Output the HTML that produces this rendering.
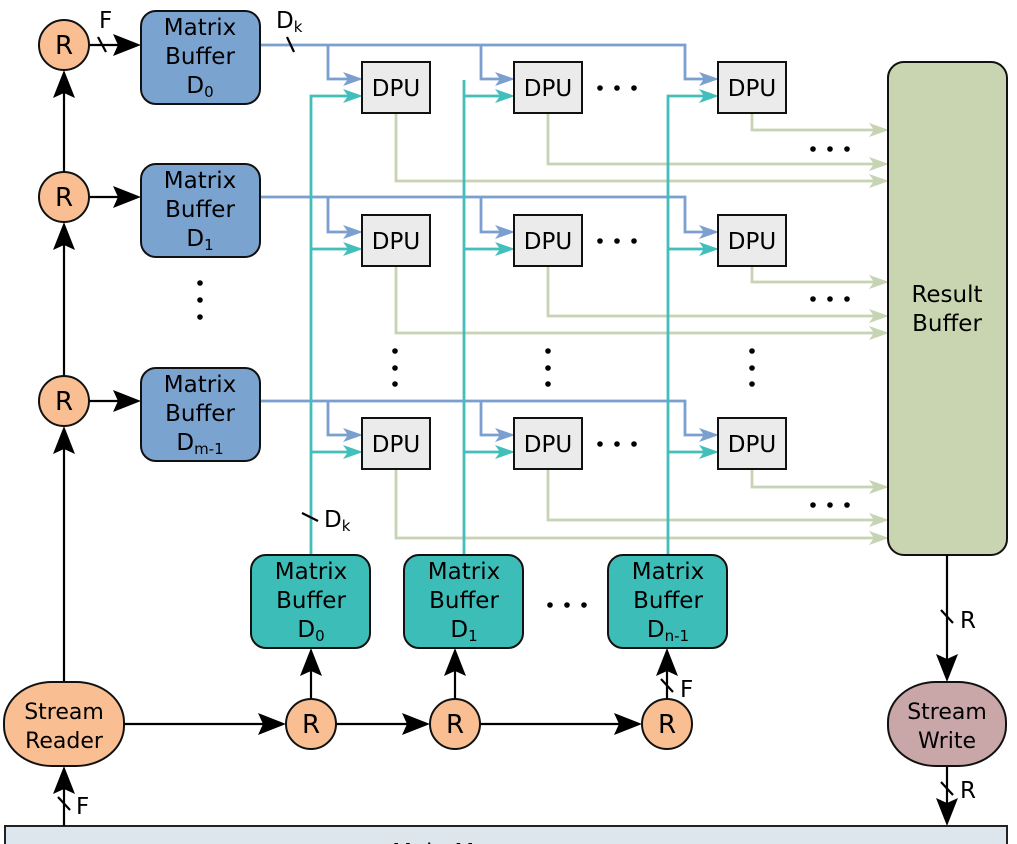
<!DOCTYPE html>
<html><head><meta charset="utf-8"><style>
html,body{margin:0;padding:0;background:#fff;}
svg{display:block;}
text{font-family:"DejaVu Sans","Liberation Sans",sans-serif;font-size:23px;fill:#000;}
.s{font-size:15px;}
.r{font-size:26px;}
.sw{font-size:22px;}
</style></head><body>
<svg width="1017" height="844" viewBox="0 0 1017 844" xmlns="http://www.w3.org/2000/svg">
<rect x="5" y="826" width="1002" height="40" fill="#dce6ec" stroke="#222" stroke-width="2"/>
<text x="470" y="860" text-anchor="middle">Main Memory</text>

<g fill="none" stroke="#7b9fcf" stroke-width="2.8">
<path d="M260 45H685V79H704 M328 45V79H348 M481 45V79H500"/>
<path d="M260 197H685V232H704 M328 197V232H348 M481 197V232H500"/>
<path d="M260 401H685V435H704 M328 401V435H348 M481 401V435H500"/>
</g>
<g fill="#7b9fcf">
<polygon points="363,79 343,72 348,79 343,86"/><polygon points="515,79 495,72 500,79 495,86"/><polygon points="719,79 699,72 704,79 699,86"/>
<polygon points="363,232 343,225 348,232 343,239"/><polygon points="515,232 495,225 500,232 495,239"/><polygon points="719,232 699,225 704,232 699,239"/>
<polygon points="363,435 343,428 348,435 343,442"/><polygon points="515,435 495,428 500,435 495,442"/><polygon points="719,435 699,428 704,435 699,442"/>
</g>
<g fill="none" stroke="#c6d4b3" stroke-width="2.8">
<path d="M752 113V130H874 M548 113V164H874 M396 113V181H874"/>
<path d="M752 266V282H874 M548 266V316H874 M396 266V333H874"/>
<path d="M752 469V487H874 M548 469V520H874 M396 469V538H874"/>
</g>
<g fill="#c6d4b3">
<polygon points="889,130 869,123 874,130 869,137"/><polygon points="889,164 869,157 874,164 869,171"/><polygon points="889,181 869,174 874,181 869,188"/>
<polygon points="889,282 869,275 874,282 869,289"/><polygon points="889,316 869,309 874,316 869,323"/><polygon points="889,333 869,326 874,333 869,340"/>
<polygon points="889,487 869,480 874,487 869,494"/><polygon points="889,520 869,513 874,520 869,527"/><polygon points="889,538 869,531 874,538 869,545"/>
</g>
<g fill="none" stroke="#42bfbb" stroke-width="2.8">
<path d="M311 555V96H348 M311 249H348 M311 452H348"/>
<path d="M464 555V80 M464 96H500 M464 249H500 M464 452H500"/>
<path d="M668 555V96H704 M668 249H704 M668 452H704"/>
</g>
<g fill="#42bfbb">
<polygon points="363,96 343,89 348,96 343,103"/><polygon points="515,96 495,89 500,96 495,103"/><polygon points="719,96 699,89 704,96 699,103"/>
<polygon points="363,249 343,242 348,249 343,256"/><polygon points="515,249 495,242 500,249 495,256"/><polygon points="719,249 699,242 704,249 699,256"/>
<polygon points="363,452 343,445 348,452 343,459"/><polygon points="515,452 495,445 500,452 495,459"/><polygon points="719,452 699,445 704,452 699,459"/>
</g>

<g fill="#ebebeb" stroke="#111" stroke-width="2">
<rect x="362" y="62" width="68" height="51"/><rect x="514" y="62" width="68" height="51"/><rect x="718" y="62" width="68" height="51"/>
<rect x="362" y="215" width="68" height="51"/><rect x="514" y="215" width="68" height="51"/><rect x="718" y="215" width="68" height="51"/>
<rect x="362" y="418" width="68" height="51"/><rect x="514" y="418" width="68" height="51"/><rect x="718" y="418" width="68" height="51"/>
</g>
<g text-anchor="middle">
<text x="396" y="96">DPU</text><text x="548" y="96">DPU</text><text x="752" y="96">DPU</text>
<text x="396" y="249">DPU</text><text x="548" y="249">DPU</text><text x="752" y="249">DPU</text>
<text x="396" y="452">DPU</text><text x="548" y="452">DPU</text><text x="752" y="452">DPU</text>
</g>

<rect x="888" y="62" width="119" height="493" rx="16" fill="#c8d5b0" stroke="#111" stroke-width="2"/>
<text x="947" y="302" text-anchor="middle">Result</text><text x="947" y="331" text-anchor="middle">Buffer</text>

<g stroke="#000" stroke-width="2.2" fill="none">
<path d="M64 682V434 M64 376V230 M64 172V78"/>
<path d="M89 45H121 M89 197H121 M89 401H121"/>
<path d="M124 724H266 M336 724H410 M480 724H622"/>
<path d="M311 699V668 M455 699V668 M667 699V668"/>
<path d="M64 826V786 M947 555V662 M947 766V806"/>
<path d="M98 37L106 52 M287 37L294 52 M302 513L318 521 M58 797L70 810 M661 679L673 692 M941 610L953 623 M941 782L953 795"/>
</g>
<g fill="#000">
<polygon points="64,426 53,454 64,449 75,454"/><polygon points="64,222 53,250 64,245 75,250"/><polygon points="64,70 53,98 64,93 75,98"/>
<polygon points="141,45 113,34 118,45 113,56"/><polygon points="141,197 113,186 118,197 113,208"/><polygon points="141,401 113,390 118,401 113,412"/>
<polygon points="286,724 258,713 263,724 258,735"/><polygon points="430,724 402,713 407,724 402,735"/><polygon points="642,724 614,713 619,724 614,735"/>
<polygon points="311,648 300,676 311,671 322,676"/><polygon points="455,648 444,676 455,671 466,676"/><polygon points="667,648 656,676 667,671 678,676"/>
<polygon points="64,766 53,794 64,789 75,794"/>
<polygon points="947,682 936,654 947,659 958,654"/><polygon points="947,826 936,798 947,803 958,798"/>
</g>

<g fill="#f9bf92" stroke="#111" stroke-width="2">
<circle cx="64" cy="45" r="25"/><circle cx="64" cy="197" r="25"/><circle cx="64" cy="401" r="25"/>
<circle cx="311" cy="724" r="25"/><circle cx="455" cy="724" r="25"/><circle cx="667" cy="724" r="25"/>
<rect x="4" y="682" width="120" height="84" rx="48" ry="40"/>
</g>
<rect x="888" y="682" width="118" height="84" rx="48" ry="40" fill="#c9a6a8" stroke="#111" stroke-width="2"/>
<g text-anchor="middle">
<text class="r" x="64" y="54">R</text><text class="r" x="64" y="206">R</text><text class="r" x="64" y="410">R</text>
<text class="r" x="311" y="733">R</text><text class="r" x="455" y="733">R</text><text class="r" x="667" y="733">R</text>
<text class="sw" x="64" y="719">Stream</text><text class="sw" x="64" y="748">Reader</text>
<text class="sw" x="947" y="719">Stream</text><text class="sw" x="947" y="748">Write</text>
</g>

<g fill="#7aa3d0" stroke="#111" stroke-width="2">
<rect x="141" y="11" width="119" height="93" rx="15"/><rect x="141" y="164" width="119" height="93" rx="15"/><rect x="141" y="368" width="119" height="93" rx="15"/>
</g>
<g fill="#3dbdb8" stroke="#111" stroke-width="2">
<rect x="251" y="555" width="119" height="93" rx="15"/><rect x="404" y="555" width="119" height="93" rx="15"/><rect x="608" y="555" width="119" height="93" rx="15"/>
</g>
<g text-anchor="middle">
<text x="200" y="35">Matrix</text><text x="200" y="64">Buffer</text><text x="200" y="93">D<tspan class="s" dy="4">0</tspan></text>
<text x="200" y="188">Matrix</text><text x="200" y="217">Buffer</text><text x="200" y="246">D<tspan class="s" dy="4">1</tspan></text>
<text x="200" y="392">Matrix</text><text x="200" y="421">Buffer</text><text x="200" y="450">D<tspan class="s" dy="4">m-1</tspan></text>
<text x="311" y="579">Matrix</text><text x="311" y="608">Buffer</text><text x="311" y="637">D<tspan class="s" dy="4">0</tspan></text>
<text x="464" y="579">Matrix</text><text x="464" y="608">Buffer</text><text x="464" y="637">D<tspan class="s" dy="4">1</tspan></text>
<text x="668" y="579">Matrix</text><text x="668" y="608">Buffer</text><text x="668" y="637">D<tspan class="s" dy="4">n-1</tspan></text>
</g>

<text x="99" y="28">F</text>
<text x="276" y="28">D<tspan class="s" dy="4">k</tspan></text>
<text x="324" y="527">D<tspan class="s" dy="4">k</tspan></text>
<text x="76" y="814">F</text>
<text x="680" y="697">F</text>
<text x="960" y="628">R</text>
<text x="960" y="798">R</text>

<g fill="#000">
<circle cx="600" cy="88" r="2.8"/><circle cx="617" cy="88" r="2.8"/><circle cx="634" cy="88" r="2.8"/>
<circle cx="600" cy="241" r="2.8"/><circle cx="617" cy="241" r="2.8"/><circle cx="634" cy="241" r="2.8"/>
<circle cx="600" cy="444" r="2.8"/><circle cx="617" cy="444" r="2.8"/><circle cx="634" cy="444" r="2.8"/>
<circle cx="813" cy="149" r="2.8"/><circle cx="830" cy="149" r="2.8"/><circle cx="847" cy="149" r="2.8"/>
<circle cx="813" cy="299" r="2.8"/><circle cx="830" cy="299" r="2.8"/><circle cx="847" cy="299" r="2.8"/>
<circle cx="813" cy="505" r="2.8"/><circle cx="830" cy="505" r="2.8"/><circle cx="847" cy="505" r="2.8"/>
<circle cx="550" cy="605" r="2.8"/><circle cx="567" cy="605" r="2.8"/><circle cx="584" cy="605" r="2.8"/>
<circle cx="200" cy="283" r="2.8"/><circle cx="200" cy="300" r="2.8"/><circle cx="200" cy="317" r="2.8"/>
<circle cx="395" cy="351" r="2.8"/><circle cx="395" cy="368" r="2.8"/><circle cx="395" cy="384" r="2.8"/>
<circle cx="548" cy="351" r="2.8"/><circle cx="548" cy="368" r="2.8"/><circle cx="548" cy="384" r="2.8"/>
<circle cx="752" cy="351" r="2.8"/><circle cx="752" cy="368" r="2.8"/><circle cx="752" cy="384" r="2.8"/>
</g>
</svg>
</body></html>
